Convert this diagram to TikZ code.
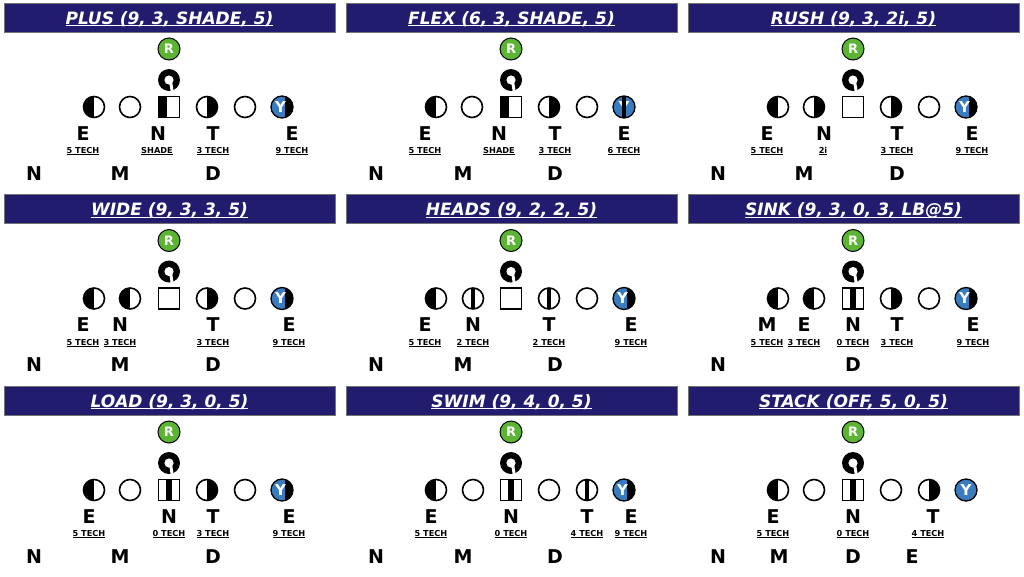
\documentclass[tikz,border=0pt]{standalone}
\usepackage{fontspec}
\setmainfont{DejaVu Sans}
\definecolor{navy}{HTML}{221C6E}
\definecolor{rgreen}{HTML}{5CB532}
\definecolor{yblue}{HTML}{3A7CC0}
\newcommand\mkul[3]{\setbox0=\hbox{#3}\rlap{\rule[-#1]{\wd0}{#2}}\box0}
\tikzset{
  titlebar/.style={rectangle, fill=navy, draw=black!55, line width=0.8pt, minimum width=331pt, minimum height=29pt, inner sep=0pt},
  titletext/.style={anchor=base, text=white, inner sep=0pt, font=\fontsize{17pt}{20pt}\selectfont\bfseries\itshape},
  rnode/.style={circle, fill=rgreen, draw=black, line width=1pt, minimum size=22pt, inner sep=0pt, text=white, font=\fontsize{13pt}{15pt}\selectfont\bfseries},
  qnode/.style={circle, fill=black, minimum size=22pt, inner sep=0pt},
  plc/.style={circle, draw=black, line width=1.6pt, minimum size=21pt, inner sep=0pt, fill=white},
  plsq/.style={rectangle, draw=black, line width=1.6pt, minimum size=21pt, inner sep=0pt, fill=white},
  plhl/.style={plc, path picture={\fill[black] (path picture bounding box.south west) rectangle (path picture bounding box.north);}},
  plhr/.style={plc, path picture={\fill[black] (path picture bounding box.south) rectangle (path picture bounding box.north east);}},
  plhd/.style={plc, path picture={\fill[black] ([xshift=-2.2pt]path picture bounding box.south) rectangle ([xshift=2.2pt]path picture bounding box.north);}},
  plsqsh/.style={plsq, path picture={\fill[black] (path picture bounding box.south west) rectangle ([xshift=8pt]path picture bounding box.north west);}},
  plsqz/.style={plsq, path picture={\fill[black] ([xshift=-3.2pt]path picture bounding box.south) rectangle ([xshift=3.2pt]path picture bounding box.north);}},
  ynode/.style={circle, fill=yblue, draw=black, line width=1.3pt, minimum size=22pt, inner sep=0pt, text=white, font=\fontsize{15pt}{17pt}\selectfont\bfseries},
  ynine/.style={ynode, path picture={\fill[black] ([xshift=3pt]path picture bounding box.south) rectangle (path picture bounding box.north east);}},
  biglab/.style={anchor=base, inner sep=0pt, font=\fontsize{19pt}{22pt}\selectfont\bfseries},
  techlab/.style={anchor=base, inner sep=0pt, font=\fontsize{8.2pt}{10pt}\selectfont\bfseries},
}
\newcommand\mkpanel[2]{%
  \node[titlebar] (#1t) at (169.5,17.5) {};
  \node[titletext] (#1tt) at (169.5,24) {\mkul{2.4pt}{1.2pt}{#2}};
  \node[rnode] (#1r) at (169,49) {R};
  \node[qnode] (#1q) at (169,80) {};
  \fill[white] (#1q.center) circle (4.6);
  \fill[white] (#1q.center) ++(0.3,3) -- ++(3,0) -- ++(1.4,8.5) -- ++(-3,0) -- cycle;
}
\newcommand\mkpl[3]{\node[#2] (#1) at (#3,107) {};}
\newcommand\mky[3]{\node[#2] (#1) at (#3,107) {\makebox[0pt]{\hspace{-3pt}Y}};}
\newcommand\mkbig[3]{\node[biglab] (#1) at (#3,140) {#2};}
\newcommand\mktech[3]{\node[techlab] (#1) at (#3,153.5) {\mkul{1.6pt}{0.9pt}{#2}};}
\newcommand\mkback[3]{\node[biglab] (#1) at (#3,180) {#2};}
\begin{document}
\begin{tikzpicture}[x=1pt,y=-1pt]
\useasboundingbox (0,0) rectangle (1024,576);
\fill[white] (0,0) rectangle (1024,576);
% ---------- PLUS
\begin{scope}[shift={(0,0)}]
\mkpanel{a}{PLUS (9, 3, SHADE, 5)}
\mkpl{a1}{plhl}{94}\mkpl{a2}{plc}{130}\mkpl{a3}{plsqsh}{169}\mkpl{a4}{plhr}{207}\mkpl{a5}{plc}{245}\mky{a6}{ynine}{282}
\mkbig{aE}{E}{83}\mkbig{aN}{N}{158}\mkbig{aT}{T}{213}\mkbig{aE2}{E}{292}
\mktech{at1}{5 TECH}{83}\mktech{at2}{SHADE}{157}\mktech{at3}{3 TECH}{213}\mktech{at4}{9 TECH}{292}
\mkback{ab1}{N}{34}\mkback{ab2}{M}{120}\mkback{ab3}{D}{213}
\end{scope}
% ---------- FLEX
\begin{scope}[shift={(342,0)}]
\mkpanel{b}{FLEX (6, 3, SHADE, 5)}
\mkpl{b1}{plhl}{94}\mkpl{b2}{plc}{130}\mkpl{b3}{plsqsh}{169}\mkpl{b4}{plhr}{207}\mkpl{b5}{plc}{245}
\node[ynode] (b6) at (282,107) {Y};
\begin{scope}
\clip (b6.center) circle (10.4);
\fill[black] (b6.center) ++(-1.9,-12) rectangle ++(3.8,24);
\end{scope}
\mkbig{bE}{E}{83}\mkbig{bN}{N}{157}\mkbig{bT}{T}{213}\mkbig{bE2}{E}{282}
\mktech{bt1}{5 TECH}{83}\mktech{bt2}{SHADE}{157}\mktech{bt3}{3 TECH}{213}\mktech{bt4}{6 TECH}{282}
\mkback{bb1}{N}{34}\mkback{bb2}{M}{121}\mkback{bb3}{D}{213}
\end{scope}
% ---------- RUSH
\begin{scope}[shift={(684,0)}]
\mkpanel{c}{RUSH (9, 3, 2i, 5)}
\mkpl{c1}{plhl}{94}\mkpl{c2}{plhr}{130}\mkpl{c3}{plsq}{169}\mkpl{c4}{plhr}{207}\mkpl{c5}{plc}{245}\mky{c6}{ynine}{282}
\mkbig{cE}{E}{83}\mkbig{cN}{N}{140}\mkbig{cT}{T}{213}\mkbig{cE2}{E}{288}
\mktech{ct1}{5 TECH}{83}\mktech{ct2}{2i}{139}\mktech{ct3}{3 TECH}{213}\mktech{ct4}{9 TECH}{288}
\mkback{cb1}{N}{34}\mkback{cb2}{M}{120}\mkback{cb3}{D}{213}
\end{scope}
% ---------- WIDE
\begin{scope}[shift={(0,191.5)}]
\mkpanel{d}{WIDE (9, 3, 3, 5)}
\mkpl{d1}{plhl}{94}\mkpl{d2}{plhl}{130}\mkpl{d3}{plsq}{169}\mkpl{d4}{plhr}{207}\mkpl{d5}{plc}{245}\mky{d6}{ynine}{282}
\mkbig{dE}{E}{83}\mkbig{dN}{N}{120}\mkbig{dT}{T}{213}\mkbig{dE2}{E}{289}
\mktech{dt1}{5 TECH}{83}\mktech{dt2}{3 TECH}{120}\mktech{dt3}{3 TECH}{213}\mktech{dt4}{9 TECH}{289}
\mkback{db1}{N}{34}\mkback{db2}{M}{120}\mkback{db3}{D}{213}
\end{scope}
% ---------- HEADS
\begin{scope}[shift={(342,191.5)}]
\mkpanel{e}{HEADS (9, 2, 2, 5)}
\mkpl{e1}{plhl}{94}\mkpl{e2}{plhd}{131}\mkpl{e3}{plsq}{169}\mkpl{e4}{plhd}{207}\mkpl{e5}{plc}{245}\mky{e6}{ynine}{282}
\mkbig{eE}{E}{83}\mkbig{eN}{N}{131}\mkbig{eT}{T}{207}\mkbig{eE2}{E}{289}
\mktech{et1}{5 TECH}{83}\mktech{et2}{2 TECH}{131}\mktech{et3}{2 TECH}{207}\mktech{et4}{9 TECH}{289}
\mkback{eb1}{N}{34}\mkback{eb2}{M}{121}\mkback{eb3}{D}{213}
\end{scope}
% ---------- SINK
\begin{scope}[shift={(684,191.5)}]
\mkpanel{f}{SINK (9, 3, 0, 3, LB@5)}
\mkpl{f1}{plhl}{94}\mkpl{f2}{plhl}{130}\mkpl{f3}{plsqz}{169}\mkpl{f4}{plhr}{207}\mkpl{f5}{plc}{245}\mky{f6}{ynine}{282}
\mkbig{fM}{M}{83}\mkbig{fE}{E}{120}\mkbig{fN}{N}{169}\mkbig{fT}{T}{213}\mkbig{fE2}{E}{289}
\mktech{ft1}{5 TECH}{83}\mktech{ft2}{3 TECH}{120}\mktech{ft3}{0 TECH}{169}\mktech{ft4}{3 TECH}{213}\mktech{ft5}{9 TECH}{289}
\mkback{fb1}{N}{34}\mkback{fb2}{D}{169}
\end{scope}
% ---------- LOAD
\begin{scope}[shift={(0,383)}]
\mkpanel{g}{LOAD (9, 3, 0, 5)}
\mkpl{g1}{plhl}{94}\mkpl{g2}{plc}{130}\mkpl{g3}{plsqz}{169}\mkpl{g4}{plhr}{207}\mkpl{g5}{plc}{245}\mky{g6}{ynine}{282}
\mkbig{gE}{E}{89}\mkbig{gN}{N}{169}\mkbig{gT}{T}{213}\mkbig{gE2}{E}{289}
\mktech{gt1}{5 TECH}{89}\mktech{gt2}{0 TECH}{169}\mktech{gt3}{3 TECH}{213}\mktech{gt4}{9 TECH}{289}
\mkback{gb1}{N}{34}\mkback{gb2}{M}{120}\mkback{gb3}{D}{213}
\end{scope}
% ---------- SWIM
\begin{scope}[shift={(342,383)}]
\mkpanel{h}{SWIM (9, 4, 0, 5)}
\mkpl{h1}{plhl}{94}\mkpl{h2}{plc}{131}\mkpl{h3}{plsqz}{169}\mkpl{h4}{plc}{207}\mkpl{h5}{plhd}{245}\mky{h6}{ynine}{282}
\mkbig{hE}{E}{89}\mkbig{hN}{N}{169}\mkbig{hT}{T}{245}\mkbig{hE2}{E}{289}
\mktech{ht1}{5 TECH}{89}\mktech{ht2}{0 TECH}{169}\mktech{ht3}{4 TECH}{245}\mktech{ht4}{9 TECH}{289}
\mkback{hb1}{N}{34}\mkback{hb2}{M}{121}\mkback{hb3}{D}{213}
\end{scope}
% ---------- STACK
\begin{scope}[shift={(684,383)}]
\mkpanel{i}{STACK (OFF, 5, 0, 5)}
\mkpl{i1}{plhl}{94}\mkpl{i2}{plc}{130}\mkpl{i3}{plsqz}{169}\mkpl{i4}{plc}{207}\mkpl{i5}{plhr}{245}
\node[ynode] (i6) at (282,107) {Y};
\mkbig{iE}{E}{89}\mkbig{iN}{N}{169}\mkbig{iT}{T}{249}
\mktech{it1}{5 TECH}{89}\mktech{it2}{0 TECH}{169}\mktech{it3}{4 TECH}{244}
\mkback{ib1}{N}{34}\mkback{ib2}{M}{95}\mkback{ib3}{D}{169}\mkback{ib4}{E}{228}
\end{scope}
\end{tikzpicture}
\end{document}
